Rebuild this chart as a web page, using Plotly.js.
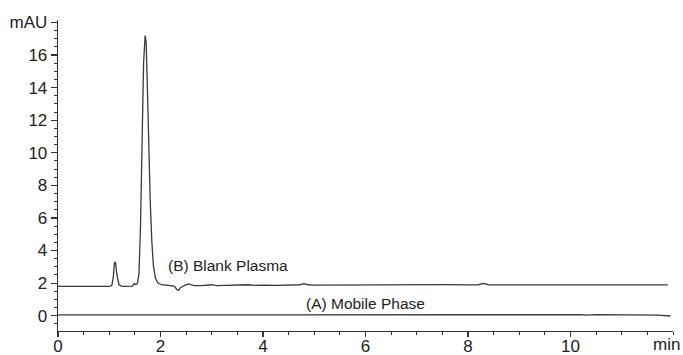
<!DOCTYPE html>
<html>
<head>
<meta charset="utf-8">
<script src="https://cdn.plot.ly/plotly-3.0.1.min.js"></script>
<style>html,body{margin:0;padding:0;background:#fff;}#chart{width:683px;height:355px;}</style>
</head>
<body>
<div id="chart"></div>
<script>
// [time (min), absorbance (mAU)]
const blankPlasma = [
  [0,1.8],[1.0,1.8],[1.05,1.85],[1.08,2.4],[1.1,3.2],[1.12,3.3],[1.15,2.5],[1.19,1.9],[1.25,1.8],
  [1.45,1.82],[1.49,1.97],[1.52,1.92],[1.55,1.98],[1.58,2.6],[1.61,5.5],[1.64,10.5],[1.67,15.5],
  [1.7,17.2],[1.72,16.8],[1.74,14.5],[1.77,10.5],[1.8,7.0],[1.83,4.6],[1.86,3.1],[1.9,2.3],
  [1.95,2.0],[2.02,1.9],[2.15,1.86],[2.27,1.82],[2.32,1.6],[2.35,1.55],[2.39,1.72],[2.46,1.85],
  [2.55,1.95],[2.65,1.85],[2.8,1.85],[3.0,1.9],[3.1,1.85],[3.3,1.87],[3.5,1.85],[3.7,1.9],
  [3.85,1.86],[4.0,1.88],[4.3,1.86],[4.6,1.88],[4.72,1.9],[4.8,1.97],[4.88,1.9],[5.0,1.88],
  [5.5,1.89],[6.0,1.91],[6.5,1.91],[7.0,1.91],[7.3,1.89],[7.6,1.91],[8.0,1.89],[8.2,1.9],
  [8.3,1.98],[8.4,1.9],[8.55,1.89],[9.0,1.89],[10.0,1.89],[11.0,1.89],[11.9,1.89]
];
const mobilePhase = [
  [0,0.05],[2.0,0.05],[2.3,0.07],[2.5,0.05],[4.2,0.05],[4.3,0.08],[4.4,0.05],[6.0,0.06],
  [8.0,0.06],[10.2,0.06],[10.3,0.03],[10.5,0.06],[11.7,0.04],[11.85,-0.02],[11.95,-0.02]
];
const yTickVals = [0,2,4,6,8,10,12,14,16,18];
const yTickText = ['0','2','4','6','8','10','12','14','16','mAU'];
const xTickVals = [0,2,4,6,8,10];
const labelB = '(B) Blank Plasma';
const labelA = '(A) Mobile Phase';

const lineStyle = {color:'#3a3a3a', width:1.3};
const traces = [
  {x: blankPlasma.map(p=>p[0]), y: blankPlasma.map(p=>p[1]), mode:'lines', line:lineStyle, hoverinfo:'skip'},
  {x: mobilePhase.map(p=>p[0]), y: mobilePhase.map(p=>p[1]), mode:'lines', line:lineStyle, hoverinfo:'skip'}
];
const font = {family:'Liberation Sans, Arial, sans-serif', color:'#222'};
const layout = {
  width:683, height:355,
  margin:{l:58, r:10, t:20, b:24},
  showlegend:false,
  paper_bgcolor:'#fff', plot_bgcolor:'#fff',
  font: Object.assign({size:17}, font),
  xaxis:{
    range:[0,12], showgrid:false, zeroline:false, showline:true, linecolor:'#333', linewidth:1.3,
    ticks:'outside', ticklen:5, tickwidth:1.2, tickcolor:'#333', tickvals:xTickVals,
    ticklabelstandoff:-6,
    minor:{dtick:0.5, ticks:'outside', ticklen:3, tickwidth:1, tickcolor:'#333'},
    tickfont: Object.assign({size:17}, font)
  },
  yaxis:{
    range:[-0.94,18.15], showgrid:false, zeroline:false, showline:true, linecolor:'#333', linewidth:1.3,
    ticks:'outside', ticklen:6, tickwidth:1.2, tickcolor:'#333', tickvals:yTickVals, ticktext:yTickText,
    minor:{dtick:0.5, ticks:'outside', ticklen:3, tickwidth:1, tickcolor:'#333'},
    tickfont: Object.assign({size:17}, font)
  },
  annotations:[
    {x:3.32, y:3.1, xref:'x', yref:'y', text:labelB, showarrow:false, xanchor:'center', yanchor:'middle', font:Object.assign({size:15.5}, font)},
    {x:6.0, y:0.75, xref:'x', yref:'y', text:labelA, showarrow:false, xanchor:'center', yanchor:'middle', font:Object.assign({size:15.5}, font)},
    {x:1, y:-0.045, xref:'paper', yref:'paper', xshift:9, text:'min', showarrow:false, xanchor:'right', yanchor:'middle', font:Object.assign({size:17}, font)}
  ]
};
Plotly.newPlot('chart', traces, layout, {staticPlot:true, displayModeBar:false});
</script>
</body>
</html>
